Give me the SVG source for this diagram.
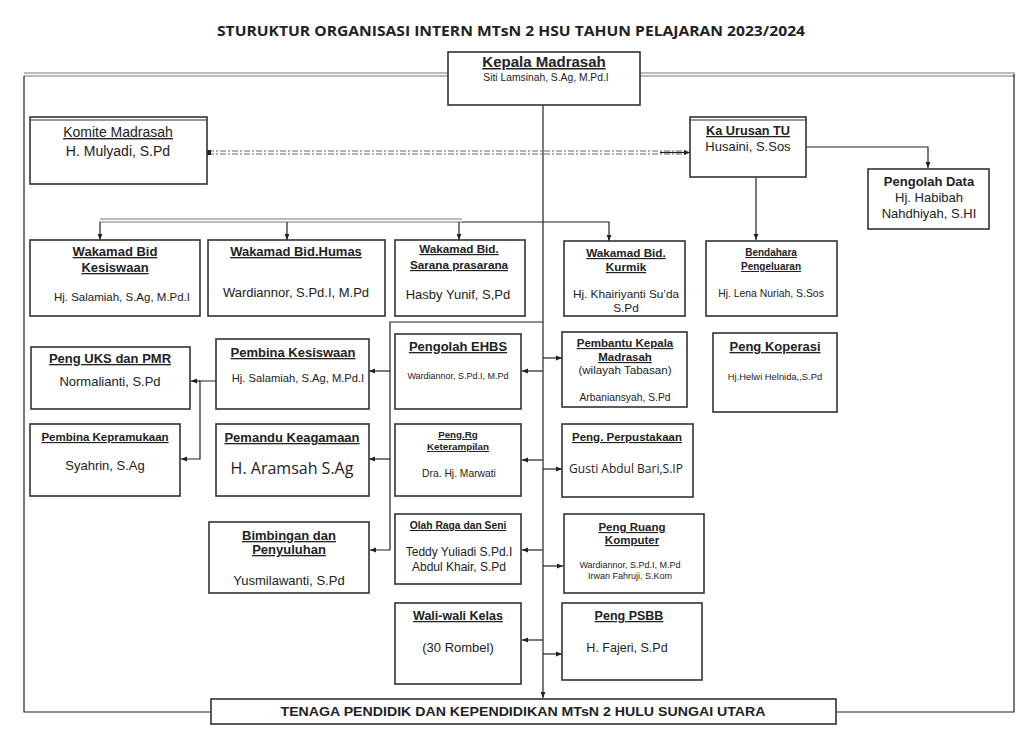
<svg xmlns="http://www.w3.org/2000/svg" width="1024" height="749" viewBox="0 0 1024 749">
<style>
.bx{fill:#fff;stroke:#333;stroke-width:1.6}
.t{font-family:"Liberation Sans",Arial,sans-serif;fill:#222;text-anchor:middle}
.b{font-weight:bold}
.u{text-decoration:underline}
.o{font-family:"Open Sans","Liberation Sans",sans-serif}
.ln{fill:none;stroke:#222;stroke-width:1.2}
.gl{fill:none;stroke:#777;stroke-width:1.2}
</style>
<defs>
<marker id="ar" viewBox="0 0 10 10" refX="10" refY="5" markerWidth="6" markerHeight="6" orient="auto" markerUnits="userSpaceOnUse">
<path d="M0,1 L10,5 L0,9 z" fill="#222"/>
</marker>
</defs>
<rect width="1024" height="749" fill="#fff"/>
<text class="t o b" x="511" y="36" font-size="15" textLength="588" lengthAdjust="spacingAndGlyphs">STURUKTUR ORGANISASI INTERN MTsN 2 HSU TAHUN PELAJARAN 2023/2024</text>

<g id="frame">
<path class="gl" d="M24,73 H1015 M24,76 H1015" stroke="#888"/>
<path class="ln" d="M24,76 V712 H211 M836,712 H1014 V74" stroke="#555"/>
</g>

<g id="connectors">
<line class="ln" x1="543" y1="105" x2="543" y2="698" marker-end="url(#ar)"/>
<path d="M208,151 H688 M208,154 H688" fill="none" stroke="#666" stroke-width="1.2" stroke-dasharray="6,2,2,2"/>
<rect x="207" y="150" width="4" height="5" fill="#222"/>
<line class="ln" x1="660" y1="152.5" x2="690" y2="152.5" marker-end="url(#ar)"/>
<path class="ln" d="M806,147 H928 V168" marker-end="url(#ar)"/>
<line class="ln" x1="756" y1="178" x2="756" y2="240" marker-end="url(#ar)"/>
<path d="M100,219 H462 M100,222 H462" fill="none" stroke="#777" stroke-width="1.2"/>
<path class="ln" d="M462,222 H609 V241" marker-end="url(#ar)"/>
<line class="ln" x1="100" y1="222" x2="100" y2="240" marker-end="url(#ar)"/>
<line class="ln" x1="287" y1="222" x2="287" y2="240" marker-end="url(#ar)"/>
<line class="ln" x1="459" y1="222" x2="459" y2="240" marker-end="url(#ar)"/>
<path class="ln" d="M543,322 H390 V550 H370" marker-end="url(#ar)"/>
<line class="ln" x1="390" y1="371" x2="369" y2="371" marker-end="url(#ar)"/>
<line class="ln" x1="390" y1="459" x2="369" y2="459" marker-end="url(#ar)"/>
<path class="ln" d="M216,381 H200 V459 H181" marker-end="url(#ar)"/>
<line class="ln" x1="200" y1="381" x2="191" y2="381" marker-end="url(#ar)"/>
<line class="ln" x1="543" y1="371" x2="522" y2="371" marker-end="url(#ar)"/>
<line class="ln" x1="543" y1="460" x2="522" y2="460" marker-end="url(#ar)"/>
<line class="ln" x1="543" y1="550" x2="522" y2="550" marker-end="url(#ar)"/>
<line class="ln" x1="543" y1="640" x2="522" y2="640" marker-end="url(#ar)"/>
<line class="ln" x1="543" y1="358" x2="562" y2="358" marker-end="url(#ar)"/>
<line class="ln" x1="543" y1="469" x2="562" y2="469" marker-end="url(#ar)"/>
<line class="ln" x1="543" y1="566" x2="563" y2="566" marker-end="url(#ar)"/>
<line class="ln" x1="543" y1="654" x2="562" y2="654" marker-end="url(#ar)"/>
</g>

<g id="kepala">
<rect class="bx" x="448" y="52" width="192" height="53"/>
<text class="t b u" x="544" y="67" font-size="15">Kepala Madrasah</text>
<text class="t" x="546" y="81" font-size="10.3">Siti Lamsinah, S.Ag, M.Pd.I</text>
</g>

<g id="komite">
<rect class="bx" x="30" y="117" width="177" height="67"/>
<line x1="30" y1="120" x2="207" y2="120" stroke="#333" stroke-width="1"/>
<text class="t u" x="118" y="137" font-size="14">Komite Madrasah</text>
<text class="t" x="118" y="156" font-size="14">H. Mulyadi, S.Pd</text>
</g>

<g id="ka-urusan-tu">
<rect class="bx" x="690" y="117" width="116" height="60"/>
<line x1="690" y1="120" x2="806" y2="120" stroke="#333" stroke-width="1"/>
<text class="t b u" x="748" y="135" font-size="12.7">Ka Urusan TU</text>
<text class="t" x="748" y="151" font-size="13">Husaini, S.Sos</text>
</g>

<g id="pengolah-data">
<rect class="bx" x="868" y="169" width="121" height="60"/>
<text class="t b" x="929" y="186" font-size="13">Pengolah Data</text>
<text class="t" x="929" y="202" font-size="13">Hj. Habibah</text>
<text class="t" x="929" y="218" font-size="13">Nahdhiyah, S.HI</text>
</g>

<g id="wakamad-kesiswaan">
<rect class="bx" x="30" y="240" width="170" height="76"/>
<text class="t b u" x="115" y="256" font-size="13">Wakamad Bid</text>
<text class="t b u" x="115" y="272" font-size="13">Kesiswaan</text>
<text class="t" x="122" y="301" font-size="11.5">Hj. Salamiah, S.Ag, M.Pd.I</text>
</g>

<g id="wakamad-humas">
<rect class="bx" x="208" y="240" width="177" height="76"/>
<text class="t b u" x="296" y="256" font-size="13">Wakamad Bid.Humas</text>
<text class="t" x="296" y="297" font-size="13">Wardiannor, S.Pd.I, M.Pd</text>
</g>

<g id="wakamad-sarana">
<rect class="bx" x="395" y="240" width="130" height="76"/>
<text class="t b u" x="459" y="253" font-size="11.7">Wakamad Bid.</text>
<text class="t b u" x="459" y="269" font-size="11.7">Sarana prasarana</text>
<text class="t" x="458" y="299" font-size="13">Hasby Yunif, S,Pd</text>
</g>

<g id="wakamad-kurmik">
<rect class="bx" x="564" y="241" width="121" height="75"/>
<text class="t b u" x="626" y="257" font-size="11.7">Wakamad Bid.</text>
<text class="t b u" x="626" y="271" font-size="11.7">Kurmik</text>
<text class="t" x="626" y="298" font-size="11.8">Hj. Khairiyanti Su’da</text>
<text class="t" x="626" y="312" font-size="11.8">S.Pd</text>
</g>

<g id="bendahara">
<rect class="bx" x="706" y="241" width="131" height="75"/>
<text class="t b u" x="771" y="256" font-size="10">Bendahara</text>
<text class="t b u" x="771" y="270" font-size="10">Pengeluaran</text>
<text class="t" x="771" y="297" font-size="10.4">Hj. Lena Nuriah, S.Sos</text>
</g>

<g id="peng-uks">
<rect class="bx" x="31" y="347" width="159" height="62"/>
<text class="t b u" x="110" y="363" font-size="13">Peng UKS dan PMR</text>
<text class="t" x="110" y="386" font-size="13">Normalianti, S.Pd</text>
</g>

<g id="pembina-kepramukaan">
<rect class="bx" x="30" y="424" width="150" height="72"/>
<text class="t b u" x="105" y="441" font-size="11.5">Pembina Kepramukaan</text>
<text class="t" x="105" y="470" font-size="13">Syahrin, S.Ag</text>
</g>

<g id="pembina-kesiswaan">
<rect class="bx" x="216" y="339" width="153" height="70"/>
<text class="t b u" x="293" y="357" font-size="13">Pembina Kesiswaan</text>
<text class="t" x="298" y="382" font-size="11.2">Hj. Salamiah, S.Ag, M.Pd.I</text>
</g>

<g id="pemandu-keagamaan">
<rect class="bx" x="216" y="424" width="153" height="72"/>
<text class="t b u" x="292" y="442" font-size="13">Pemandu Keagamaan</text>
<text class="t o" x="292" y="474" font-size="16">H. Aramsah S.Ag</text>
</g>

<g id="bimbingan">
<rect class="bx" x="209" y="522" width="160" height="71"/>
<text class="t b u" x="289" y="540" font-size="13">Bimbingan dan</text>
<text class="t b u" x="289" y="554" font-size="13">Penyuluhan</text>
<text class="t" x="289" y="585" font-size="13">Yusmilawanti, S.Pd</text>
</g>

<g id="pengolah-ehbs">
<rect class="bx" x="395" y="334" width="126" height="75"/>
<text class="t b u" x="458" y="351" font-size="13">Pengolah EHBS</text>
<text class="t" x="458" y="379" font-size="9">Wardiannor, S.Pd.I, M.Pd</text>
</g>

<g id="peng-rg">
<rect class="bx" x="395" y="424" width="126" height="72"/>
<text class="t b u" x="458" y="438" font-size="9.8">Peng.Rg</text>
<text class="t b u" x="458" y="450" font-size="9.8">Keterampilan</text>
<text class="t" x="459" y="477" font-size="10.3">Dra. Hj. Marwati</text>
</g>

<g id="olah-raga">
<rect class="bx" x="395" y="514" width="126" height="70"/>
<text class="t b u" x="458" y="529" font-size="10.3">Olah Raga dan Seni</text>
<text class="t" x="459" y="556" font-size="12">Teddy Yuliadi S.Pd.I</text>
<text class="t" x="459" y="571" font-size="12">Abdul Khair, S.Pd</text>
</g>

<g id="wali-kelas">
<rect class="bx" x="395" y="603" width="126" height="81"/>
<text class="t b u" x="458" y="620" font-size="12.5">Wali-wali Kelas</text>
<text class="t" x="458" y="652" font-size="13">(30 Rombel)</text>
</g>

<g id="pembantu-kepala">
<rect class="bx" x="562" y="332" width="125" height="75"/>
<text class="t b u" x="625" y="347" font-size="11.5">Pembantu Kepala</text>
<text class="t b u" x="625" y="361" font-size="11.5">Madrasah</text>
<text class="t" x="625" y="374" font-size="11.6">(wilayah Tabasan)</text>
<text class="t" x="625" y="401" font-size="10.3">Arbaniansyah, S.Pd</text>
</g>

<g id="peng-perpustakaan">
<rect class="bx" x="562" y="424" width="131" height="73"/>
<text class="t b u" x="627" y="441" font-size="11.5">Peng. Perpustakaan</text>
<text class="t o" x="626" y="473" font-size="12">Gusti Abdul Bari,S.IP</text>
</g>

<g id="peng-ruang-komputer">
<rect class="bx" x="564" y="514" width="140" height="79"/>
<text class="t b u" x="632" y="531" font-size="11.5">Peng Ruang</text>
<text class="t b u" x="632" y="544" font-size="11.5">Komputer</text>
<text class="t" x="630" y="568" font-size="9">Wardiannor, S.Pd.I, M.Pd</text>
<text class="t" x="630" y="579" font-size="9">Irwan Fahruji, S.Kom</text>
</g>

<g id="peng-psbb">
<rect class="bx" x="562" y="603" width="140" height="77"/>
<text class="t b u" x="629" y="620" font-size="12.5">Peng PSBB</text>
<text class="t" x="627" y="652" font-size="12.5">H. Fajeri, S.Pd</text>
</g>

<g id="peng-koperasi">
<rect class="bx" x="713" y="333" width="124" height="79"/>
<text class="t b u" x="775" y="351" font-size="13">Peng Koperasi</text>
<text class="t" x="775" y="380" font-size="9.4">Hj.Helwi Helnida,,S.Pd</text>
</g>

<g id="tenaga-pendidik">
<rect class="bx" x="211" y="699" width="625" height="25"/>
<text class="t b" x="523" y="716" font-size="12" textLength="485" lengthAdjust="spacingAndGlyphs">TENAGA PENDIDIK DAN KEPENDIDIKAN MTsN 2 HULU SUNGAI UTARA</text>
</g>
</svg>
